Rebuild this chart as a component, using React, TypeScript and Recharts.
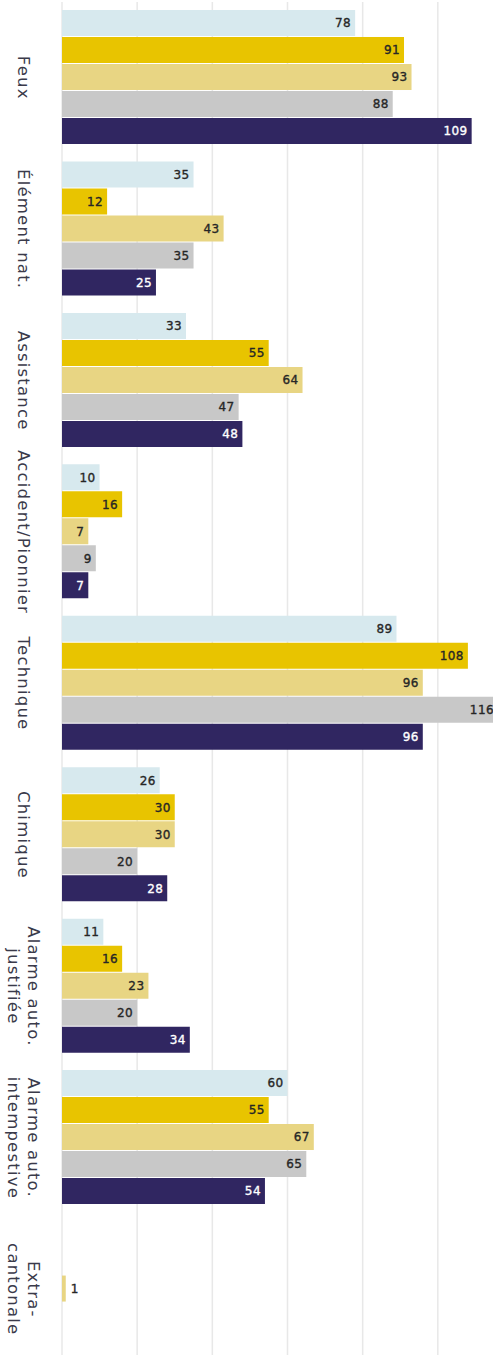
import React from 'react'
import { BarChart, Bar, XAxis, YAxis, CartesianGrid, LabelList } from 'recharts'

// categories (label lines)
const categories = [
  'Feux',
  'Élément nat.',
  'Assistance',
  'Accident/Pionnier',
  'Technique',
  'Chimique',
  'Alarme auto.|justifiée',
  'Alarme auto.|intempestive',
  'Extra-|cantonale',
]

// series values, top bar to bottom bar in each group
const serieA = [78, 35, 33, 10, 89, 26, 11, 60, null]
const serieB = [91, 12, 55, 16, 108, 30, 16, 55, null]
const serieC = [93, 43, 64, 7, 96, 30, 23, 67, 1]
const serieD = [88, 35, 47, 9, 116, 20, 20, 65, null]
const serieE = [109, 25, 48, 7, 96, 28, 34, 54, null]

const xTicks = [0, 20, 40, 60, 80, 100, 120]

const series = [
  { key: 'a', values: serieA, color: '#d7e9ee', text: '#262626' },
  { key: 'b', values: serieB, color: '#e8c400', text: '#262626' },
  { key: 'c', values: serieC, color: '#e8d583', text: '#262626' },
  { key: 'd', values: serieD, color: '#c8c8c8', text: '#262626' },
  { key: 'e', values: serieE, color: '#302661', text: '#ffffff' },
]

const data = categories.map((name, i) => {
  const row: any = { name }
  series.forEach((s) => (row[s.key] = s.values[i]))
  return row
})

const CategoryTick = (props: any) => {
  const { y, payload } = props
  const lines = String(payload.value).split('|')
  const lh = 20
  return (
    <g transform={`translate(23.5,${y}) rotate(90)`}>
      {lines.map((l, i) => (
        <text
          key={i}
          x={0}
          y={(i - (lines.length - 1) / 2) * lh}
          dy="0.35em"
          textAnchor="middle"
          fill="#3a3a4a"
          fontSize={16.5}
          letterSpacing={1.2}
          fontFamily='"DejaVu Sans", sans-serif'
        >
          {l}
        </text>
      ))}
    </g>
  )
}

const makeLabel = (color: string) => (props: any) => {
  const { x, y, width, height, value } = props
  if (value == null) return null
  const inside = width > 16
  const c = inside ? color : '#262626'
  return (
    <text
      x={inside ? x + width - 4 : x + width + 5}
      y={y + height / 2}
      dy="0.36em"
      textAnchor={inside ? 'end' : 'start'}
      fill={c}
      stroke={c}
      strokeWidth={0.35}
      fontSize={12}
      letterSpacing={0.4}
      fontFamily='"DejaVu Sans", sans-serif'
    >
      {value}
    </text>
  )
}

export default function App() {
  return (
    <div
      style={{
        position: 'absolute',
        top: 0,
        left: 0,
        width: 493,
        height: 1355,
        overflow: 'hidden',
        background: '#fff',
      }}
    >
      <BarChart
        width={520}
        height={1370}
        data={data}
        layout="vertical"
        margin={{ top: 2, right: 7, bottom: 5, left: 0 }}
        barCategoryGap={8}
        barGap={1}
      >
        <CartesianGrid horizontal={false} stroke="#e8e8e8" strokeWidth={1.5} />
        <XAxis type="number" domain={[0, 120]} ticks={xTicks} hide />
        <YAxis
          type="category"
          dataKey="name"
          width={62}
          axisLine={false}
          tickLine={false}
          tick={<CategoryTick />}
          interval={0}
        />
        {series.map((s) => (
          <Bar key={s.key} dataKey={s.key} fill={s.color} isAnimationActive={false}>
            <LabelList dataKey={s.key} content={makeLabel(s.text)} />
          </Bar>
        ))}
      </BarChart>
    </div>
  )
}
